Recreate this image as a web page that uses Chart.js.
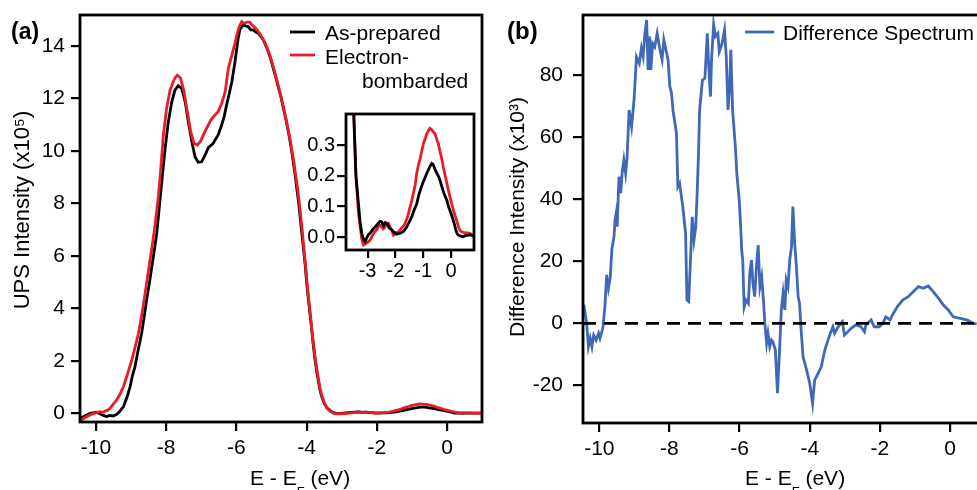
<!DOCTYPE html>
<html><head><meta charset="utf-8">
<script src="https://cdn.jsdelivr.net/npm/chart.js@4.4.1/dist/chart.umd.min.js"></script>
<style>
html,body{margin:0;padding:0;background:#fff;overflow:hidden;width:977px;height:490px;position:relative;}
canvas{position:absolute;}
</style></head><body>
<canvas id="ca" style="left:0;top:0" width="490" height="490"></canvas>
<canvas id="cb" style="left:490px;top:0" width="495" height="490"></canvas>
<canvas id="ci" style="left:290px;top:100px" width="190" height="190"></canvas>
<script>
// ---------- data ----------
const energyBlack = [-10.45,-10.36,-10.26,-10.17,-10.08,-9.98,-9.89,-9.79,-9.70,-9.61,-9.51,-9.41,-9.32,-9.22,-9.12,-9.03,-8.96,-8.89,-8.80,-8.70,-8.63,-8.56,-8.48,-8.41,-8.34,-8.27,-8.20,-8.12,-8.03,-7.94,-7.84,-7.75,-7.66,-7.56,-7.46,-7.37,-7.27,-7.18,-7.09,-6.99,-6.89,-6.80,-6.73,-6.66,-6.59,-6.52,-6.42,-6.35,-6.28,-6.20,-6.13,-6.04,-5.99,-5.95,-5.90,-5.80,-5.73,-5.66,-5.59,-5.52,-5.45,-5.38,-5.30,-5.23,-5.16,-5.09,-5.02,-4.95,-4.88,-4.81,-4.73,-4.66,-4.59,-4.52,-4.45,-4.38,-4.33,-4.28,-4.23,-4.19,-4.14,-4.09,-4.04,-4.00,-3.95,-3.90,-3.85,-3.81,-3.76,-3.71,-3.66,-3.62,-3.56,-3.50,-3.42,-3.33,-3.27,-3.21,-3.15,-3.09,-3.02,-2.96,-2.91,-2.82,-2.73,-2.62,-2.55,-2.49,-2.42,-2.36,-2.31,-2.22,-2.14,-2.07,-1.96,-1.83,-1.70,-1.59,-1.50,-1.41,-1.32,-1.23,-1.15,-1.08,-1.00,-0.93,-0.87,-0.80,-0.75,-0.69,-0.64,-0.58,-0.52,-0.46,-0.40,-0.33,-0.28,-0.22,-0.15,-0.09,-0.03,0.03,0.08,0.13,0.17,0.22,0.26,0.35,0.44,0.52,0.60,0.68,0.74,0.85,0.99];
const intensityBlack = [-0.20,-0.13,-0.06,0.00,0.02,0.04,-0.02,-0.08,-0.12,-0.08,-0.10,-0.04,0.08,0.25,0.60,1.01,1.45,1.77,2.40,3.05,3.65,4.31,4.95,5.58,6.20,6.85,7.80,8.90,10.09,11.10,11.87,12.31,12.48,12.38,11.87,11.10,10.34,9.77,9.56,9.58,9.84,10.12,10.20,10.28,10.45,10.60,10.98,11.30,11.74,12.20,12.63,13.39,13.90,14.28,14.62,14.80,14.75,14.72,14.60,14.60,14.52,14.48,14.35,14.21,14.00,13.77,13.48,13.14,12.80,12.44,12.05,11.61,11.20,10.72,10.20,9.58,9.10,8.57,8.05,7.55,6.90,6.28,5.65,5.01,4.35,3.74,3.15,2.60,2.05,1.58,1.20,0.89,0.60,0.40,0.20,0.11,0.05,0.013,-0.005,-0.014,0.000,0.010,0.013,0.025,0.034,0.045,0.052,0.050,0.038,0.048,0.045,0.030,0.025,0.018,0.010,0.013,0.020,0.034,0.050,0.067,0.090,0.110,0.140,0.160,0.180,0.195,0.208,0.222,0.232,0.240,0.236,0.222,0.210,0.200,0.186,0.165,0.150,0.135,0.121,0.100,0.085,0.070,0.056,0.040,0.025,0.012,0.007,0.004,0.002,0.006,0.006,0.008,0.007,0.006,0.005];
const energyRed = [-10.45,-10.41,-10.30,-10.17,-10.05,-9.95,-9.89,-9.80,-9.72,-9.66,-9.60,-9.51,-9.41,-9.32,-9.22,-9.10,-8.98,-8.89,-8.79,-8.71,-8.63,-8.56,-8.49,-8.42,-8.35,-8.28,-8.22,-8.15,-8.08,-7.99,-7.89,-7.80,-7.74,-7.68,-7.59,-7.49,-7.40,-7.30,-7.21,-7.11,-7.02,-6.92,-6.83,-6.73,-6.61,-6.52,-6.42,-6.32,-6.23,-6.13,-6.04,-5.98,-5.92,-5.85,-5.78,-5.70,-5.62,-5.56,-5.48,-5.40,-5.33,-5.26,-5.20,-5.12,-5.05,-4.98,-4.92,-4.85,-4.78,-4.71,-4.64,-4.57,-4.50,-4.43,-4.36,-4.31,-4.26,-4.21,-4.17,-4.12,-4.08,-4.03,-3.99,-3.94,-3.89,-3.85,-3.80,-3.75,-3.70,-3.65,-3.61,-3.55,-3.50,-3.42,-3.33,-3.26,-3.21,-3.15,-3.05,-2.98,-2.91,-2.80,-2.73,-2.67,-2.62,-2.58,-2.52,-2.49,-2.44,-2.40,-2.33,-2.25,-2.18,-2.12,-2.07,-2.02,-1.98,-1.89,-1.78,-1.70,-1.65,-1.59,-1.55,-1.47,-1.41,-1.36,-1.29,-1.23,-1.17,-1.10,-1.04,-0.99,-0.93,-0.88,-0.82,-0.76,-0.70,-0.64,-0.59,-0.55,-0.50,-0.46,-0.41,-0.37,-0.32,-0.28,-0.22,-0.16,-0.10,-0.04,0.02,0.08,0.14,0.20,0.25,0.28,0.33,0.38,0.45,0.50,0.60,0.68,0.75,0.80,0.90,0.99];
const intensityRed = [-0.26,-0.25,-0.15,-0.06,0.00,0.04,0.06,0.04,0.10,0.12,0.19,0.35,0.51,0.72,1.01,1.50,2.03,2.50,3.05,3.65,4.31,4.95,5.58,6.20,6.85,7.60,8.30,9.40,10.60,11.61,12.31,12.63,12.80,12.88,12.76,12.25,11.49,10.72,10.28,10.22,10.37,10.66,10.91,11.17,11.36,11.49,11.80,12.25,13.14,13.64,14.09,14.45,14.72,14.92,14.85,14.90,14.90,14.80,14.70,14.58,14.45,14.30,14.15,13.90,13.65,13.35,13.05,12.70,12.35,11.95,11.55,11.10,10.65,10.10,9.55,9.05,8.60,8.05,7.55,6.90,6.30,5.65,5.00,4.35,3.75,3.15,2.60,2.05,1.60,1.20,0.90,0.62,0.42,0.20,0.08,0.03,-0.005,-0.025,-0.020,-0.015,-0.009,0.010,0.020,0.024,0.035,0.040,0.035,0.040,0.028,0.030,0.042,0.045,0.030,0.020,0.007,0.012,0.015,0.018,0.030,0.038,0.045,0.060,0.070,0.100,0.120,0.140,0.170,0.210,0.235,0.260,0.285,0.305,0.320,0.335,0.345,0.354,0.350,0.343,0.338,0.330,0.315,0.305,0.285,0.270,0.250,0.230,0.205,0.180,0.155,0.132,0.110,0.090,0.072,0.056,0.040,0.030,0.022,0.018,0.016,0.015,0.014,0.013,0.008,0.004,0.003,0.002];
const energyDiff = [-10.44,-10.40,-10.36,-10.31,-10.26,-10.21,-10.16,-10.09,-10.02,-9.98,-9.90,-9.84,-9.79,-9.74,-9.69,-9.64,-9.58,-9.55,-9.52,-9.49,-9.44,-9.39,-9.35,-9.30,-9.25,-9.21,-9.15,-9.08,-9.01,-8.94,-8.86,-8.80,-8.75,-8.70,-8.65,-8.61,-8.57,-8.53,-8.48,-8.42,-8.35,-8.27,-8.21,-8.16,-8.10,-8.04,-7.99,-7.94,-7.90,-7.80,-7.76,-7.71,-7.62,-7.54,-7.50,-7.45,-7.40,-7.35,-7.30,-7.25,-7.21,-7.17,-7.14,-7.06,-6.99,-6.92,-6.88,-6.83,-6.80,-6.74,-6.69,-6.62,-6.58,-6.50,-6.43,-6.38,-6.33,-6.28,-6.25,-6.20,-6.12,-6.08,-6.01,-5.96,-5.94,-5.91,-5.87,-5.82,-5.75,-5.71,-5.66,-5.62,-5.57,-5.52,-5.47,-5.42,-5.37,-5.32,-5.28,-5.23,-5.19,-5.14,-5.09,-5.05,-4.98,-4.92,-4.86,-4.81,-4.76,-4.71,-4.67,-4.62,-4.57,-4.52,-4.48,-4.43,-4.38,-4.33,-4.29,-4.24,-4.19,-4.09,-4.00,-3.92,-3.86,-3.76,-3.67,-3.57,-3.48,-3.43,-3.34,-3.29,-3.19,-3.07,-3.01,-2.82,-2.68,-2.54,-2.44,-2.40,-2.25,-2.16,-2.02,-1.92,-1.83,-1.71,-1.64,-1.50,-1.35,-1.19,-1.05,-0.90,-0.76,-0.62,-0.48,-0.33,-0.19,-0.05,0.09,0.29,0.48,0.66,0.76];
const diffIntensity = [6,3,0,-7.5,-4.8,-7.5,-3.8,-5.4,-3.2,-4.8,-1.6,5.4,15.6,11.3,14.5,24,28,33.3,35.4,31.1,47.2,41.9,48.3,52.6,48.3,53.1,68.7,63.3,71.9,85.8,83.7,88.6,85.9,93.4,97.7,81.6,92.4,81.6,90.1,89.0,93.4,88.1,84.9,91.3,88.0,84.9,76.3,74.1,68.7,61.2,44.0,45.1,37.6,29.0,7.5,7.0,20.4,34.3,26.8,31.1,42,55,68.7,78.3,78.9,93.4,82.7,73.0,84.9,96.2,92.4,93.4,87.5,90.1,94.5,85.9,68.7,77.3,88.1,68.7,56.9,48.3,39.7,29.0,23.6,20.4,5.3,7.5,6.4,16.1,20.4,12.9,8.6,18.3,25.2,11.8,15.0,7.5,0,-6.4,-3.2,-7.5,-5.4,-5.9,-8.6,-22.5,-8.6,4.3,9.7,4.3,13.9,11.8,20.4,24.7,37.6,25.8,18.3,8.6,6.4,-3.2,-10.8,-15.0,-19.3,-25.8,-18.3,-16.1,-14.0,-8.6,-5.4,-3.8,-1.1,-3.2,-1.1,0.5,-3.8,-1.6,-0.5,-1.1,-2.7,-0.5,1.1,-1.1,-1.1,0,2.1,1.1,2.7,5.4,7.5,8.6,10.2,11.8,11.3,12.0,10.2,8.1,5.9,4.3,2.1,1.6,1.1,0,-0.2];
const zeroLevel = 0;
const seriesNames = ['As-prepared', 'Electron-bombarded', 'Difference Spectrum'];
const legendLinesA = [['As-prepared'], ['Electron-', 'bombarded']];
const ticksAX = [-10, -8, -6, -4, -2, 0];
const ticksAY = [0, 2, 4, 6, 8, 10, 12, 14];
const ticksInsetX = [-3, -2, -1, 0];
const ticksInsetY = [0.0, 0.1, 0.2, 0.3];
const ticksBX = [-10, -8, -6, -4, -2, 0];
const ticksBY = [-20, 0, 20, 40, 60, 80];
const titleAY = 'UPS Intensity (x10\u2075)';
const titleBY = 'Difference Intensity (x10\u00B3)';
const titleX = [{t:'E - E'}, {t:'F', sub:true}, {t:' (eV)'}];

// ---------- styling ----------
const FAM = "'Liberation Sans', Arial, Helvetica, sans-serif";
const BLACK = '#000000', RED = '#ea1c24', BLUE = '#3f68b8';
Chart.defaults.font.family = FAM;
Chart.defaults.color = '#000';
Chart.defaults.animation = false;

const pts = (xs, ys) => xs.map((x, i) => ({x: x, y: ys[i]}));

function axis(min, max, ticks, fmt, o) {
  return {
    type: 'linear', min: min, max: max,
    afterBuildTicks: s => { s.ticks = ticks.map(v => ({value: v})); },
    afterFit: s => {
      if (s.isHorizontal()) s.height = o.size; else s.width = o.size;
      s.paddingTop = 0; s.paddingBottom = 0; s.paddingLeft = 0; s.paddingRight = 0;
    },
    grid: {display: true, drawOnChartArea: false, drawTicks: true, tickLength: o.tl, tickWidth: 2.2, tickColor: '#000', color: '#000', lineWidth: 2.2},
    border: {display: false},
    ticks: {font: {size: o.fs}, color: '#000', padding: o.pad, maxRotation: 0, minRotation: 0, autoSkip: false, callback: fmt}
  };
}

function richText(c, parts, x, y, size) {
  let cx = x;
  c.textAlign = 'left'; c.textBaseline = 'alphabetic';
  parts.forEach(p => {
    const fs = p.sub ? Math.round(size * 0.64) : size;
    c.font = fs + 'px ' + FAM;
    const dy = p.sub ? size * 0.5 : 0;
    c.fillText(p.t, cx, y + dy);
    cx += c.measureText(p.t).width;
  });
}

const deco = {
  id: 'deco',
  beforeDatasetsDraw(chart, args, o) {
    if (!o.bg) return;
    const a = chart.chartArea, c = chart.ctx;
    c.save(); c.fillStyle = '#fff'; c.fillRect(a.left, a.top, a.right - a.left, a.bottom - a.top); c.restore();
  },
  afterDatasetsDraw(chart, args, o) {
    const c = chart.ctx, a = chart.chartArea;
    c.save();
    c.strokeStyle = '#000'; c.lineWidth = o.frame || 2.5;
    c.strokeRect(a.left, a.top, a.right - a.left, a.bottom - a.top);
    (o.legend || []).forEach(L => {
      const ds = chart.data.datasets[L.ds];
      c.strokeStyle = ds.borderColor; c.lineWidth = ds.borderWidth;
      c.beginPath(); c.moveTo(L.x0, L.y); c.lineTo(L.x1, L.y); c.stroke();
      c.fillStyle = '#000'; c.font = o.fs + 'px ' + FAM; c.textBaseline = 'alphabetic'; c.textAlign = 'left';
      L.lines.forEach(ln => c.fillText(ln.t, ln.x, ln.y));
    });
    if (o.panel) {
      c.fillStyle = '#000'; c.font = 'bold ' + o.panel.fs + 'px ' + FAM; c.textAlign = 'left'; c.textBaseline = 'alphabetic';
      c.fillText(o.panel.t, o.panel.x, o.panel.y);
    }
    if (o.ytitle) {
      c.save(); c.translate(o.ytitle.x, o.ytitle.y); c.rotate(-Math.PI / 2);
      c.fillStyle = '#000'; c.font = o.ytitle.fs + 'px ' + FAM; c.textAlign = 'center'; c.textBaseline = 'alphabetic';
      c.fillText(o.ytitle.t, 0, 0); c.restore();
    }
    if (o.xtitle) { c.fillStyle = '#000'; richText(c, titleX, o.xtitle.x, o.xtitle.y, o.fs); }
    c.restore();
  }
};

// ---------- panel (a) ----------
new Chart(document.getElementById('ca'), {
  type: 'line',
  data: { datasets: [
    {label: seriesNames[0], data: pts(energyBlack, intensityBlack), borderColor: BLACK, borderWidth: 2.8, pointRadius: 0, tension: 0, order: 1},
    {label: seriesNames[1], data: pts(energyRed, intensityRed), borderColor: RED, borderWidth: 2.8, pointRadius: 0, tension: 0, order: 0}
  ]},
  options: {
    responsive: false, animation: false, events: [],
    layout: {padding: {left: 0, top: 15, right: 8, bottom: 0}},
    scales: {
      x: axis(-10.456, 0.997, ticksAX, v => String(v), {size: 68, tl: 9, fs: 21, pad: 5}),
      y: axis(-0.331, 15.17, ticksAY, v => String(v), {size: 80, tl: 9, fs: 21, pad: 6})
    },
    plugins: {
      legend: {display: false}, tooltip: {enabled: false},
      deco: {
        frame: 2.8, fs: 21,
        legend: [
          {ds: 0, x0: 290, x1: 315, y: 32, lines: [{t: legendLinesA[0][0], x: 325, y: 39.5}]},
          {ds: 1, x0: 290, x1: 315, y: 55, lines: [{t: legendLinesA[1][0], x: 325, y: 63.5}, {t: legendLinesA[1][1], x: 362, y: 87.5}]}
        ],
        panel: {t: '(a)', x: 11, y: 39, fs: 23},
        ytitle: {t: titleAY, x: 28.5, y: 210, fs: 22},
        xtitle: {x: 250, y: 485}
      }
    }
  },
  plugins: [deco]
});

// ---------- inset ----------
new Chart(document.getElementById('ci'), {
  type: 'line',
  data: { datasets: [
    {label: seriesNames[0], data: pts(energyBlack, intensityBlack), borderColor: BLACK, borderWidth: 2.8, pointRadius: 0, tension: 0, order: 0},
    {label: seriesNames[1], data: pts(energyRed, intensityRed), borderColor: RED, borderWidth: 2.8, pointRadius: 0, tension: 0, order: 1}
  ]},
  options: {
    responsive: false, animation: false, events: [],
    layout: {padding: {left: 0, top: 14, right: 6, bottom: 0}},
    scales: {
      x: axis(-3.777, 0.827, ticksInsetX, v => String(v), {size: 40, tl: 8, fs: 20, pad: 1}),
      y: axis(-0.0413, 0.4007, ticksInsetY, v => Number(v).toFixed(1), {size: 56, tl: 9, fs: 20, pad: 2})
    },
    plugins: {legend: {display: false}, tooltip: {enabled: false}, deco: {frame: 2.8, fs: 20, bg: true}}
  },
  plugins: [deco]
});

// ---------- panel (b) ----------
const bMin = -10.465, bMax = 0.912;
new Chart(document.getElementById('cb'), {
  type: 'line',
  data: { datasets: [
    {label: seriesNames[2], data: pts(energyDiff, diffIntensity), borderColor: BLUE, borderWidth: 2.8, pointRadius: 0, tension: 0, order: 1},
    {label: 'zero', data: [{x: bMin, y: zeroLevel}, {x: bMax, y: zeroLevel}], borderColor: BLACK, borderWidth: 2.8, borderDash: [13, 8], pointRadius: 0, order: 0}
  ]},
  options: {
    responsive: false, animation: false, events: [],
    layout: {padding: {left: 0, top: 15, right: 3, bottom: 0}},
    scales: {
      x: axis(bMin, bMax, ticksBX, v => String(v), {size: 67, tl: 9, fs: 21, pad: 5}),
      y: axis(-32.1, 99.3, ticksBY, v => String(v), {size: 93, tl: 10, fs: 21, pad: 10})
    },
    plugins: {
      legend: {display: false}, tooltip: {enabled: false},
      deco: {
        frame: 2.8, fs: 21,
        legend: [{ds: 0, x0: 255, x1: 284, y: 32, lines: [{t: seriesNames[2], x: 293, y: 39.5}]}],
        panel: {t: '(b)', x: 17, y: 39, fs: 24},
        ytitle: {t: titleBY, x: 33.5, y: 217, fs: 21},
        xtitle: {x: 255, y: 485}
      }
    }
  },
  plugins: [deco]
});
</script></body></html>
